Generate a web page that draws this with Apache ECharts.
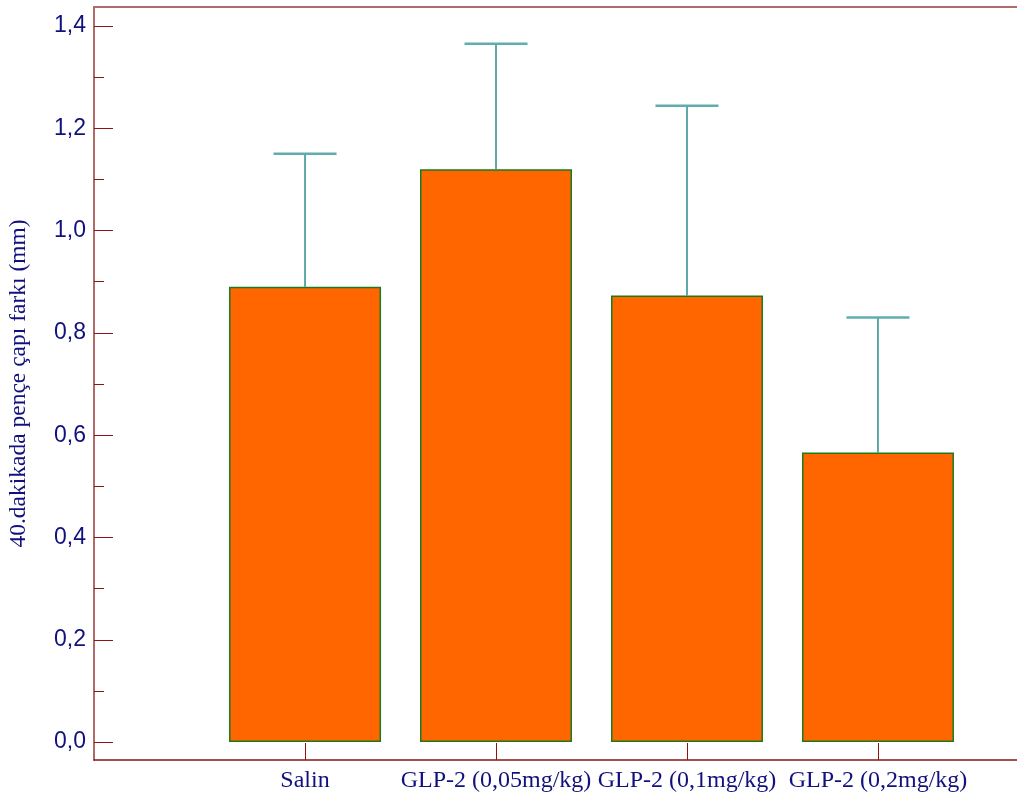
<!DOCTYPE html>
<html>
<head>
<meta charset="utf-8">
<script src="https://cdn.jsdelivr.net/npm/echarts@6/dist/echarts.min.js"></script>
<style>
  html, body { margin: 0; padding: 0; background: #ffffff; }
  #chart { width: 1017px; height: 801px; }
</style>
</head>
<body>
<div id="chart"></div>
<script>
// Groups, means and upper error (mean + SD) of paw diameter difference at 40 min
const categories = ['Salin', 'GLP-2 (0,05mg/kg)', 'GLP-2 (0,1mg/kg)', 'GLP-2 (0,2mg/kg)'];
const means = [0.890, 1.120, 0.873, 0.566];
const upperErrors = [1.150, 1.365, 1.244, 0.830];
const yMajorTicks = [0, 0.2, 0.4, 0.6, 0.8, 1.0, 1.2, 1.4];
const yMinorTicks = [0.1, 0.3, 0.5, 0.7, 0.9, 1.1, 1.3];
const yTitle = '40.dakikada pençe çapı farkı (mm)';

const positions = categories.map((c, i) => i + 1);
const barData = positions.map((x, i) => [x, means[i]]);
const errData = positions.map((x, i) => [x, means[i], upperErrors[i]]);

const navy = '#10107e';
const darkRed = '#8b1414';
const frameRed = '#b06a6a';
const xMin = -0.105, xMax = 4.728;
const yMin = -0.035, yMax = 1.437;

const chart = echarts.init(document.getElementById('chart'), null, { renderer: 'canvas' });

chart.setOption({
  animation: false,
  backgroundColor: '#ffffff',
  grid: { left: 94, right: 0, top: 7, bottom: 41, containLabel: false, outerBoundsMode: 'none' },
  xAxis: [
    {
      type: 'value', position: 'bottom', min: xMin, max: xMax,
      axisLine: { show: true, onZero: false, lineStyle: { color: darkRed, width: 1.5 } },
      axisTick: { show: true, inside: true, length: 17, customValues: positions,
                  lineStyle: { color: darkRed, width: 1 } },
      axisLabel: {
        customValues: positions,
        formatter: v => categories[Math.round(v) - 1] || '',
        fontFamily: 'Liberation Serif', fontSize: 24, color: navy, margin: 9
      },
      splitLine: { show: false }
    },
    {
      type: 'value', position: 'top', min: xMin, max: xMax,
      axisLine: { show: true, onZero: false, lineStyle: { color: frameRed, width: 2 } },
      axisTick: { show: false }, axisLabel: { show: false }, splitLine: { show: false }
    }
  ],
  yAxis: [
    {
      type: 'value', position: 'left', offset: 0, min: yMin, max: yMax,
      axisLine: { show: true, onZero: false, lineStyle: { color: frameRed, width: 2 } },
      axisTick: { show: true, inside: true, length: 19, customValues: yMajorTicks,
                  lineStyle: { color: darkRed, width: 1 } },
      axisLabel: {
        customValues: yMajorTicks,
        formatter: v => v.toFixed(1).replace('.', ','),
        fontFamily: 'Liberation Sans', fontSize: 23, color: navy, margin: 8
      },
      splitLine: { show: false },
      name: yTitle, nameLocation: 'middle', nameRotate: 90, nameGap: 63,
      nameTextStyle: { fontFamily: 'Liberation Serif', fontSize: 23.5, color: navy }
    },
    {
      type: 'value', position: 'left', offset: 0, min: yMin, max: yMax,
      axisLine: { show: false, onZero: false },
      axisTick: { show: true, inside: true, length: 10, customValues: yMinorTicks,
                  lineStyle: { color: darkRed, width: 1 } },
      axisLabel: { show: false }, splitLine: { show: false }
    }
  ],
  series: [
    {
      type: 'bar', xAxisIndex: 0, yAxisIndex: 0,
      data: barData, barWidth: 152,
      itemStyle: { color: '#ff6600', borderColor: '#1c7a1c', borderWidth: 1.5 }
    },
    {
      type: 'custom', xAxisIndex: 0, yAxisIndex: 0,
      data: errData, z: 3,
      renderItem: function (params, api) {
        const x = api.value(0);
        const base = api.coord([x, api.value(1)]);
        const top = api.coord([x, api.value(2)]);
        const half = 31.5;
        return {
          type: 'group',
          children: [
            { type: 'line', shape: { x1: base[0], y1: base[1], x2: top[0], y2: top[1] },
              style: { stroke: '#2a8c8c', lineWidth: 1.5 } },
            { type: 'line', shape: { x1: top[0] - half, y1: top[1], x2: top[0] + half, y2: top[1] },
              style: { stroke: '#5fadad', lineWidth: 2.5 } }
          ]
        };
      }
    }
  ]
});
</script>
</body>
</html>
